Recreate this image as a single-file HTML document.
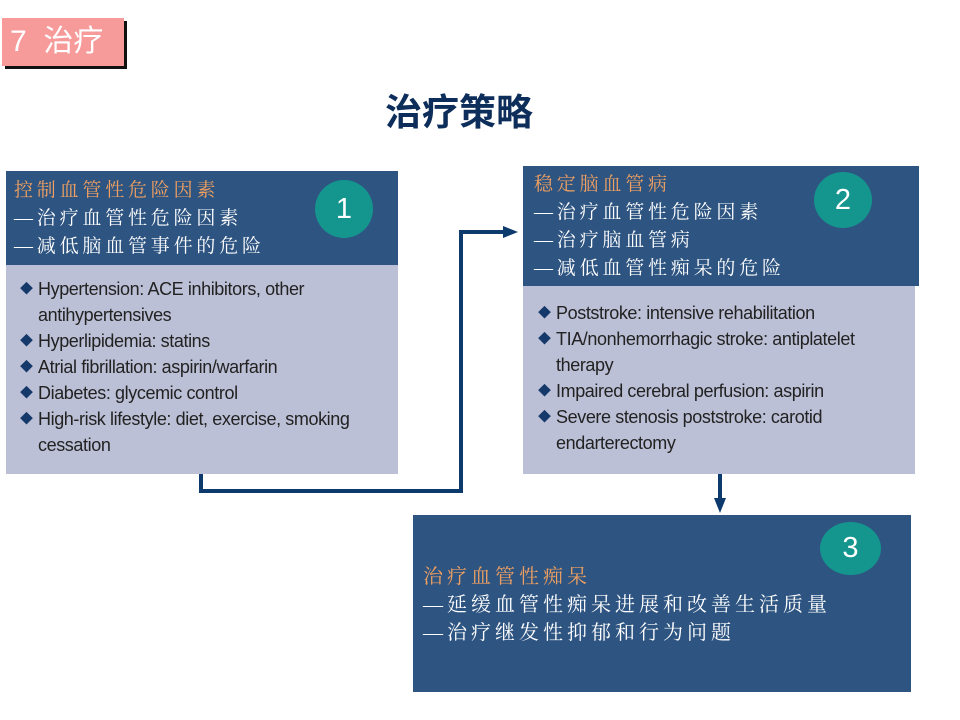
<!DOCTYPE html>
<html><head><meta charset="utf-8">
<style>
body{margin:0;width:960px;height:720px;background:#fff;position:relative;overflow:hidden;font-family:"Liberation Sans","Noto Sans CJK SC",sans-serif}
.a{position:absolute;white-space:nowrap}
.dk{position:absolute;background:#2e5481}
.lt{position:absolute;background:#bcc0d6}
.cn{position:absolute;white-space:nowrap;color:#fff;font-size:19px;letter-spacing:3.8px;font-family:"Liberation Serif","Noto Serif CJK SC",serif;line-height:28px}
.or{color:#f0a060}
.en{position:absolute;white-space:nowrap;color:#222;font-size:18px;letter-spacing:-0.4px;line-height:26px}
.en div{padding-left:18px;position:relative}
.d{color:#14396a;font-size:13px;position:absolute;left:0;top:0}
.c{position:absolute;background:#14968e;border-radius:50%;color:#fff;font-size:29px;text-align:center}
</style></head><body>
<div class="a" style="left:5px;top:21px;width:122px;height:48px;background:#111"></div>
<div class="a" style="left:2px;top:18px;width:122px;height:48px;background:#f79a9a;color:#fff;font-size:30px;line-height:48px;padding-left:8px;box-sizing:border-box">7&nbsp; 治疗</div>
<div class="a" style="left:385px;top:82px;font-size:37px;font-weight:bold;color:#0d2d5a">治疗策略</div>

<svg class="a" style="left:0;top:0" width="960" height="720">
<polyline points="201,474 201,491 461,491 461,232 505,232" fill="none" stroke="#0d3a6c" stroke-width="4"/>
<polygon points="503,226 518,232 503,238" fill="#0d3a6c"/>
<line x1="720" y1="474" x2="720" y2="500" stroke="#0d3a6c" stroke-width="4"/>
<polygon points="714,498 720,513 726,498" fill="#0d3a6c"/>
</svg>

<div class="dk" style="left:6px;top:171px;width:392px;height:94px"></div>
<div class="lt" style="left:6px;top:265px;width:392px;height:209px"></div>
<div class="c" style="left:315px;top:180px;width:58px;height:58px;line-height:58px">1</div>
<div class="cn" style="left:14px;top:177px"><span class="or">控制血管性危险因素</span><br>—治疗血管性危险因素<br>—减低脑血管事件的危险</div>
<div class="en" style="left:20px;top:276px">
<div><span class="d">◆</span>Hypertension: ACE inhibitors, other<br>antihypertensives</div>
<div><span class="d">◆</span>Hyperlipidemia: statins</div>
<div><span class="d">◆</span>Atrial fibrillation: aspirin/warfarin</div>
<div><span class="d">◆</span>Diabetes: glycemic control</div>
<div><span class="d">◆</span>High-risk lifestyle: diet, exercise, smoking<br>cessation</div>
</div>

<div class="dk" style="left:523px;top:166px;width:396px;height:120px"></div>
<div class="lt" style="left:523px;top:286px;width:392px;height:188px"></div>
<div class="c" style="left:814px;top:172px;width:58px;height:56px;line-height:56px">2</div>
<div class="cn" style="left:534px;top:171px"><span class="or">稳定脑血管病</span><br>—治疗血管性危险因素<br>—治疗脑血管病<br>—减低血管性痴呆的危险</div>
<div class="en" style="left:538px;top:300px">
<div><span class="d">◆</span>Poststroke: intensive rehabilitation</div>
<div><span class="d">◆</span>TIA/nonhemorrhagic stroke: antiplatelet<br>therapy</div>
<div><span class="d">◆</span>Impaired cerebral perfusion: aspirin</div>
<div><span class="d">◆</span>Severe stenosis poststroke: carotid<br>endarterectomy</div>
</div>

<div class="dk" style="left:413px;top:515px;width:498px;height:177px"></div>
<div class="c" style="left:820px;top:522px;width:61px;height:53px;line-height:53px">3</div>
<div class="cn" style="left:423px;top:563px;font-size:20px;letter-spacing:4px"><span class="or">治疗血管性痴呆</span><br>—延缓血管性痴呆进展和改善生活质量<br>—治疗继发性抑郁和行为问题</div>
</body></html>
